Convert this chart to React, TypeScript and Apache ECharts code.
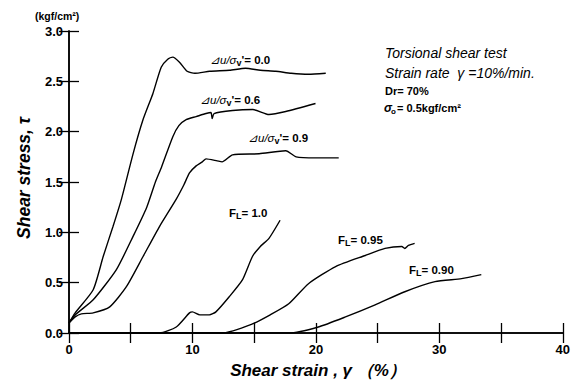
import React, { useEffect, useRef } from "react";
import * as echarts from "echarts";

const xTicks = [0, 10, 20, 30, 40];
const yTicks = [0.0, 0.5, 1.0, 1.5, 2.0, 2.5, 3.0];

const du00 = [[0,0.1],[0.5,0.2],[1.96,0.43],[2.77,0.76],[3.57,1.06],[4.25,1.33],[5.19,1.78],[6.0,2.12],[6.8,2.38],[7.47,2.64],[8.0,2.72],[8.41,2.74],[8.95,2.69],[9.57,2.6],[10.2,2.58],[11.4,2.6],[13.0,2.61],[14.3,2.63],[15.5,2.61],[16.75,2.6],[18.0,2.58],[19.4,2.57],[20.8,2.58]];
const du06 = [[0,0.1],[0.5,0.18],[1.96,0.33],[3.84,0.63],[5.19,0.96],[6.3,1.25],[7.0,1.5],[7.5,1.65],[8.41,1.95],[8.9,2.06],[9.49,2.12],[10.3,2.15],[11.1,2.18],[11.5,2.19],[11.6,2.13],[11.75,2.18],[13.25,2.21],[14.9,2.22],[16.2,2.17],[17.56,2.2],[19.97,2.28]];
const du09 = [[0,0.1],[0.5,0.16],[1.0,0.19],[1.96,0.2],[3.3,0.26],[4.65,0.46],[6.0,0.76],[7.34,1.06],[8.69,1.33],[9.3,1.47],[9.76,1.59],[10.3,1.66],[10.8,1.7],[11.1,1.73],[12.0,1.71],[12.4,1.7],[13.25,1.77],[15.4,1.78],[17.56,1.81],[18.4,1.75],[20,1.74],[21.85,1.74]];
const fl100 = [[0,0],[7.34,0],[8.69,0.06],[9.76,0.2],[10.0,0.21],[10.6,0.18],[11.37,0.18],[11.9,0.21],[12.98,0.36],[14.06,0.53],[14.86,0.76],[15.5,0.86],[16.2,0.94],[17.1,1.12]];
const fl095 = [[0,0],[12.44,0],[14.86,0.09],[16.3,0.18],[17.8,0.29],[19.4,0.49],[21.6,0.66],[24.0,0.77],[25.6,0.84],[26.96,0.86],[27.2,0.84],[27.5,0.87],[28.0,0.89]];
const fl090 = [[0,0],[17.8,0],[20.2,0.06],[22.4,0.16],[24.8,0.28],[27.2,0.41],[29.65,0.51],[31.8,0.54],[33.4,0.58]];

const seriesData = [du00, du06, du09, fl100, fl095, fl090];

const FONT = "'Liberation Sans', Arial, sans-serif";

export default function App() {
  const ref = useRef<HTMLDivElement>(null);
  useEffect(() => {
    const chart = echarts.init(ref.current!, null, { renderer: "svg" });
    const axisLine = { show: true, lineStyle: { color: "#000", width: 1.5 } };
    const tick = { show: true, inside: true, length: 10, lineStyle: { color: "#000", width: 1.3 } };
    const duRich = {
      b: { fontFamily: FONT, fontSize: 11.5, fontWeight: "bold", color: "#000" },
      i: { fontFamily: FONT, fontSize: 11.5, fontStyle: "italic", color: "#000" },
      s: { fontFamily: FONT, fontSize: 9, fontWeight: "bold", color: "#000", padding: [6, 0, 0, 0] },
    };
    const flRich = {
      b: { fontFamily: FONT, fontSize: 11.5, fontWeight: "bold", color: "#000" },
      s: { fontFamily: FONT, fontSize: 9, fontWeight: "bold", color: "#000", padding: [5, 0, 0, 0] },
    };
    const txt = (x: number, y: number, text: string, extra: any = {}) => ({
      type: "text", x, y,
      style: { text, fontFamily: FONT, fontSize: 12, fill: "#000", textVerticalAlign: "middle", ...extra },
    });
    chart.setOption({
      animation: false,
      backgroundColor: "#fff",
      grid: { left: 69, right: 7, top: 31, bottom: 53 },
      xAxis: [
        {
          type: "value", min: 0, max: 40, interval: 5, position: "bottom",
          axisLine, axisTick: tick, splitLine: { show: false },
          axisLabel: {
            margin: 10, color: "#000", fontFamily: FONT, fontWeight: "bold", fontSize: 13,
            formatter: (v: number) => (xTicks.includes(v) ? String(v) : ""),
          },
        },
        {
          type: "value", min: 0, max: 40, interval: 5, position: "top",
          axisLine, axisTick: tick, splitLine: { show: false }, axisLabel: { show: false },
        },
      ],
      yAxis: [
        {
          type: "value", min: 0, max: 3, interval: 0.5, position: "left",
          axisLine, axisTick: tick, splitLine: { show: false },
          axisLabel: {
            margin: 6, color: "#000", fontFamily: FONT, fontWeight: "bold", fontSize: 13,
            formatter: (v: number) => (yTicks.includes(v) ? v.toFixed(1) : ""),
          },
        },
        {
          type: "value", min: 0, max: 3, interval: 0.5, position: "right",
          axisLine, axisTick: tick, splitLine: { show: false }, axisLabel: { show: false },
        },
      ],
      series: seriesData.map((d) => ({
        type: "line", data: d, showSymbol: false, symbol: "none",
        lineStyle: { color: "#000", width: 1.4 }, smooth: 0.2,
      })),
      graphic: [
        txt(35, 16, "(kgf/cm²)", { fontSize: 10.5, fontWeight: "bold" }),
        txt(385, 53, "Torsional shear test", { fontSize: 14, fontStyle: "italic" }),
        txt(385, 73, "Strain rate  γ =10%/min.", { fontSize: 14, fontStyle: "italic" }),
        txt(385, 91, "Dr= 70%", { fontSize: 11, fontWeight: "bold" }),
        txt(384, 108, "σ", { fontSize: 12, fontStyle: "italic", fontWeight: "bold" }),
        txt(391, 111, "o", { fontSize: 8, fontWeight: "bold" }),
        txt(397, 108, "= 0.5kgf/cm²", { fontSize: 11, fontWeight: "bold" }),
        txt(210, 60, "{i|⊿u/σ}{s|v}{b|'= 0.0}", { rich: duRich }),
        txt(200, 100, "{i|⊿u/σ}{s|v}{b|'= 0.6}", { rich: duRich }),
        txt(248, 138, "{i|⊿u/σ}{s|v}{b|'= 0.9}", { rich: duRich }),
        txt(229, 213, "{b|F}{s|L}{b|= 1.0}", { rich: flRich }),
        txt(338, 240, "{b|F}{s|L}{b|= 0.95}", { rich: flRich }),
        txt(409, 270, "{b|F}{s|L}{b|= 0.90}", { rich: flRich }),
        {
          type: "text", x: 24, y: 178, rotation: Math.PI / 2,
          style: {
            text: "Shear stress, τ", fontFamily: FONT, fontSize: 17.5, fontWeight: "bold",
            fontStyle: "italic", fill: "#000", textAlign: "center", textVerticalAlign: "middle",
          },
        },
        {
          type: "text", x: 318, y: 370,
          style: {
            text: "Shear strain , γ （%）", fontFamily: FONT, fontSize: 17, fontWeight: "bold",
            fontStyle: "italic", fill: "#000", textAlign: "center", textVerticalAlign: "middle",
          },
        },
      ],
    });
    return () => chart.dispose();
  }, []);
  return <div ref={ref} style={{ width: 573, height: 386, position: "absolute", left: 0, top: 0 }} />;
}
